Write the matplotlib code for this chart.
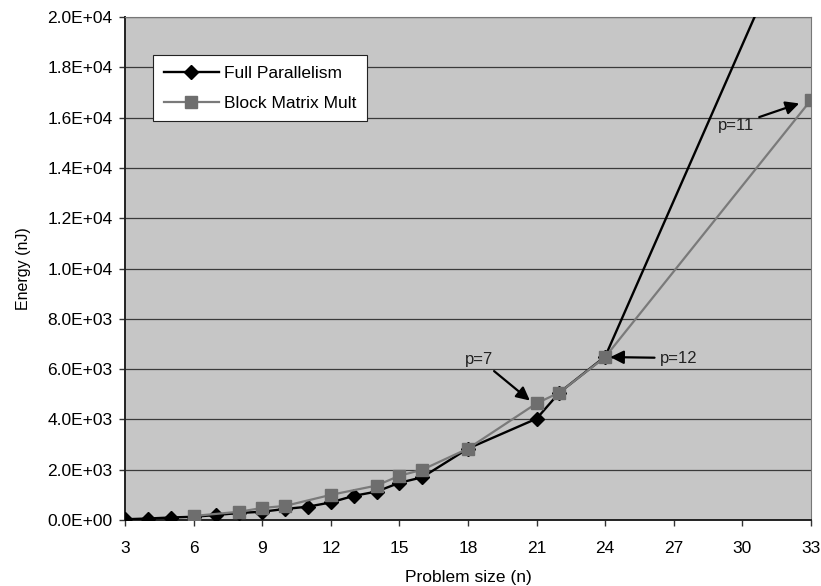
import matplotlib.pyplot as plt
from matplotlib.ticker import FuncFormatter

plt.rcParams['font.family'] = ['Liberation Sans', 'DejaVu Sans']

# problem size n and energy (nJ)
full_n = [3, 4, 5, 6, 7, 8, 9, 10, 11, 12, 13, 14, 15, 16, 18, 21, 22, 24, 33]
full_e = [30, 60, 100, 130, 200, 280, 330, 440, 530, 700, 960, 1130, 1480, 1700,
          2840, 4030, 5070, 6500, 25100]
block_n = [6, 8, 9, 10, 12, 14, 15, 16, 18, 21, 22, 24, 33]
block_e = [160, 330, 480, 560, 1000, 1370, 1760, 2000, 2840, 4640, 5070, 6480, 16700]

x_ticks = list(range(3, 34, 3))
y_ticks = list(range(0, 20001, 2000))

fig = plt.figure(figsize=(8.21, 5.86), dpi=100)
ax = fig.add_axes([0.1523, 0.1126, 0.8355, 0.8584])
ax.set_facecolor('#c6c6c6')

ax.plot(full_n, full_e, color='black', lw=1.7, marker='D', ms=7,
        markerfacecolor='black', label='Full Parallelism', zorder=3)
ax.plot(block_n, block_e, color='#7a7a7a', lw=1.6, marker='s', ms=8,
        markerfacecolor='#6e6e6e', markeredgecolor='#6e6e6e',
        label='Block Matrix Mult', zorder=4)

ax.set_xlim(3, 33)
ax.set_ylim(0, 20000)
ax.set_xticks(x_ticks)
ax.set_yticks(y_ticks)
ax.yaxis.set_major_formatter(FuncFormatter(lambda v, pos: f'{v:.1E}'))
ax.tick_params(labelsize=12.5, length=4, width=1, color='#333333')
ax.tick_params(axis='x', pad=11)
ax.tick_params(axis='y', pad=5)
ax.grid(axis='y', color='#3a3a3a', lw=0.9)
ax.set_axisbelow(True)

ax.spines['left'].set_color('#222222')
ax.spines['bottom'].set_color('#222222')
ax.spines['left'].set_linewidth(1.4)
ax.spines['bottom'].set_linewidth(1.4)
ax.spines['top'].set_color('#777777')
ax.spines['right'].set_color('#777777')

ax.set_xlabel('Problem size (n)', fontsize=12.5, labelpad=10)
ax.set_ylabel('Energy (nJ)', fontsize=11.5, labelpad=12)

arrow = dict(arrowstyle='-|>', color='black', lw=1.6, mutation_scale=20)
ax.annotate('p=7', xy=(20.8, 4680), xytext=(18.5, 6400), fontsize=12,
            color='#222222', ha='center', va='center', arrowprops=arrow,
            zorder=5)
ax.annotate('p=12', xy=(24.1, 6480), xytext=(26.4, 6440), fontsize=12,
            color='#222222', ha='left', va='center', arrowprops=arrow,
            zorder=5)
ax.annotate('p=11', xy=(32.6, 16600), xytext=(30.5, 15700), fontsize=12,
            color='#222222', ha='right', va='center', arrowprops=arrow,
            zorder=5)

leg = ax.legend(loc='upper left', bbox_to_anchor=(0.041, 0.924), fontsize=12.5,
                frameon=True, fancybox=False, framealpha=1, edgecolor='#222222',
                handlelength=3.2, borderpad=0.6, labelspacing=0.85,
                handletextpad=0.3, borderaxespad=0)
leg.get_frame().set_linewidth(0.8)

fig.savefig('out.png', dpi=100)
